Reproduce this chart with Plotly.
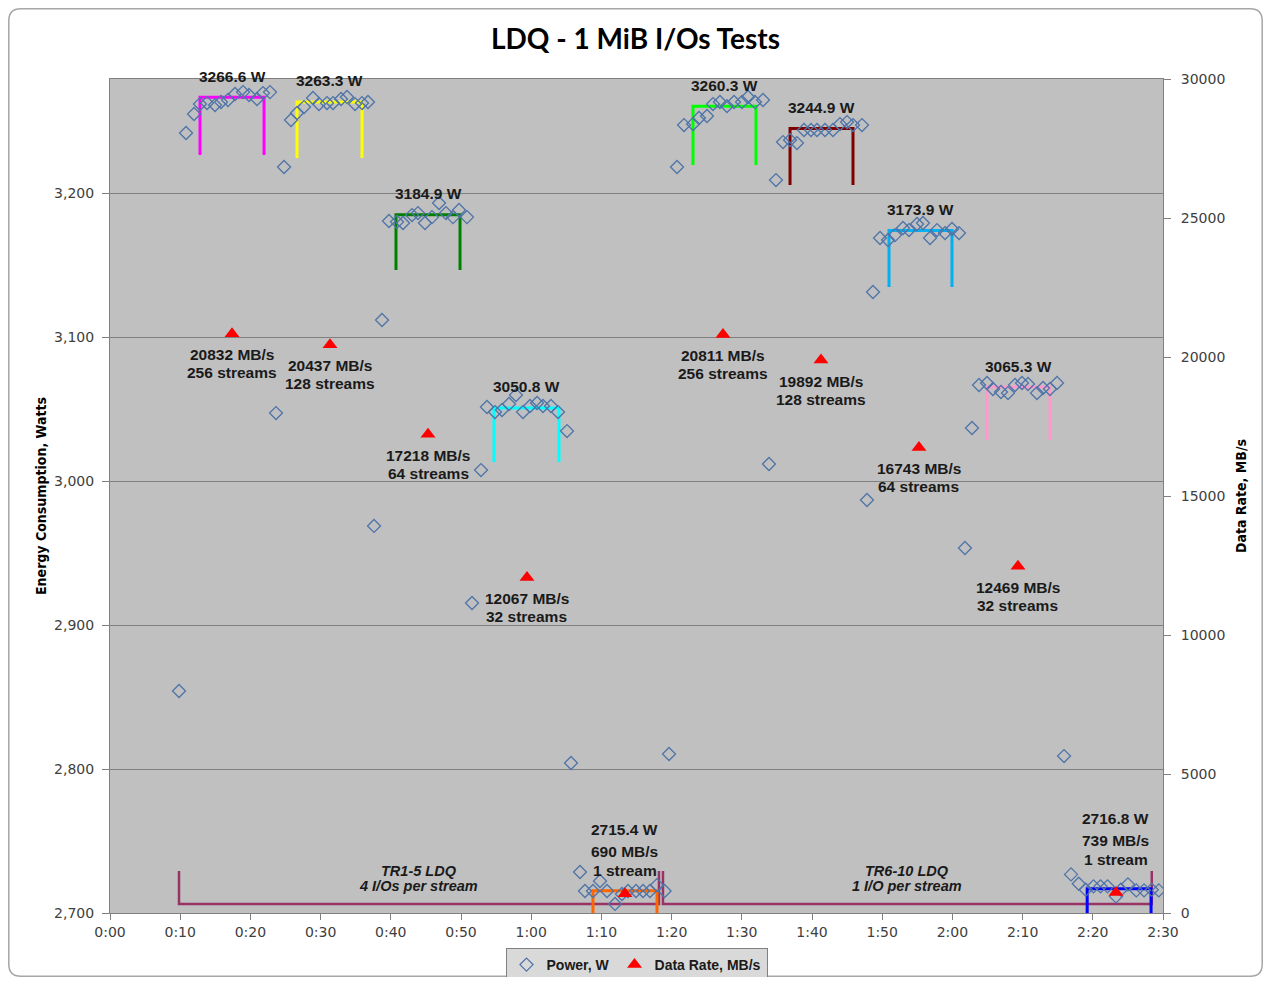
import plotly.graph_objects as go

# ---------------- data ----------------
power_min = [9.83, 10.83, 11.97, 12.82, 13.82, 14.96, 15.81, 16.81, 17.81, 18.95, 19.80, 20.94, 21.79, 22.79,
             23.65, 24.79, 25.78, 26.64, 27.64, 28.92, 29.77, 30.91, 31.77, 32.91, 33.76, 34.90, 35.90, 36.75,
             37.61, 38.75, 39.74, 40.88, 41.74, 43.02, 43.87, 44.87, 45.87, 46.87, 47.86, 48.86, 49.72, 50.85,
             51.57, 52.85, 53.70, 54.84, 55.84, 56.84, 57.83, 58.83, 59.83, 60.83, 61.68, 62.82, 63.82, 65.10,
             65.67, 66.95, 67.66, 68.80, 69.80, 70.80, 71.94, 72.93, 73.79, 74.93, 75.93, 76.92, 77.92, 79.00,
             79.63, 80.77, 81.77, 83.05, 83.90, 85.04, 85.90, 86.89, 87.89, 88.89, 90.03, 90.88, 91.88, 93.02,
             93.87, 94.87, 95.87, 96.87, 97.86, 98.86, 99.86, 100.71, 101.85, 102.99, 103.99, 104.99, 105.84, 107.12,
             107.83, 108.69, 109.69, 110.83, 111.82, 112.96, 113.82, 114.96, 115.81, 116.81, 117.81, 118.95, 119.94, 120.94,
             121.79, 122.79, 123.79, 124.93, 125.78, 126.92, 127.92, 128.92, 129.91, 130.77, 132.05, 132.91, 133.90, 134.90,
             135.90, 136.90, 138.00, 139.00, 140.10, 141.10, 142.10, 143.30, 144.00, 145.00, 146.20, 147.30, 148.40, 149.40]
power_w = [2854.2, 3241.7, 3254.9, 3261.8, 3262.5, 3261.1, 3263.2, 3264.6, 3268.8, 3270.1, 3268.1, 3265.3, 3269.4, 3270.1,
           3047.2, 3218.1, 3250.7, 3255.6, 3259.7, 3266.0, 3261.8, 3262.5, 3262.5, 3265.3, 3266.7, 3261.8, 3262.5, 3263.2,
           2968.8, 3111.8, 3180.6, 3180.0, 3179.2, 3184.7, 3186.1, 3179.2, 3183.3, 3193.1, 3186.1, 3183.3, 3188.2, 3183.3,
           2915.3, 3007.6, 3051.4, 3047.9, 3049.3, 3053.5, 3059.7, 3047.9, 3052.1, 3054.2, 3052.1, 3052.1, 3047.9, 3034.7,
           2804.2, 2728.5, 2715.3, 2715.3, 2722.2, 2715.3, 2706.3, 2713.2, 2715.3, 2715.3, 2715.3, 2715.3, 2719.4, 2715.3,
           2810.4, 3218.1, 3247.2, 3247.9, 3252.1, 3253.5, 3261.8, 3263.2, 3260.4, 3263.2, 3263.2, 3266.7, 3263.2, 3264.6,
           3011.8, 3209.0, 3235.4, 3236.8, 3234.7, 3243.8, 3243.8, 3243.8, 3243.8, 3243.8, 3247.9, 3249.3, 3247.2, 3247.2,
           2986.8, 3131.3, 3168.8, 3167.4, 3170.8, 3175.7, 3174.3, 3178.5, 3179.2, 3168.8, 3174.3, 3172.2, 3175.0, 3172.2,
           2953.5, 3036.8, 3066.7, 3068.1, 3063.9, 3061.8, 3061.1, 3066.7, 3068.1, 3067.4, 3061.1, 3064.6, 3063.9, 3068.1,
           2809.0, 2726.8, 2720.3, 2716.2, 2718.5, 2718.5, 2718.5, 2711.5, 2716.2, 2719.9, 2715.7, 2715.7, 2716.2, 2715.7]

rate_min = [17.38, 31.34, 45.30, 59.40, 73.36, 87.32, 101.28, 115.24, 129.34, 143.30]
rate_mbs = [20832, 20437, 17218, 12067, 690, 20811, 19892, 16743, 12469, 739]
rate_streams = [256, 128, 64, 32, 1, 256, 128, 64, 32, 1]

group_start = [12.82, 26.64, 40.74, 54.70, 68.80, 83.05, 96.87, 110.97, 124.93, 139.20]
group_end = [21.94, 35.90, 49.86, 63.96, 77.92, 92.02, 105.84, 119.94, 133.90, 148.30]
group_mean_w = [3266.6, 3263.3, 3184.9, 3050.8, 2715.4, 3260.3, 3244.9, 3173.9, 3065.3, 2716.8]
group_low_w = [3226.4, 3224.3, 3146.5, 3013.2, 2690.0, 3219.4, 3205.6, 3134.7, 3028.5, 2690.0]
group_colors = ["#FF00FF", "#FFFF00", "#008000", "#00FFFF", "#FF6600",
                "#00FF00", "#800000", "#00B0F0", "#FF99CC", "#0000FF"]

run_names = ["TR1-5 LDQ", "TR6-10 LDQ"]
run_notes = ["4 I/Os per stream", "1 I/O per stream"]
run_start = [9.83, 78.77]
run_end = [78.20, 148.40]
run_base_w = [2706.2, 2706.2]
run_top_w = [2729.2, 2729.2]

x_tickvals = list(range(0, 151, 10))
x_ticktext = ["0:00", "0:10", "0:20", "0:30", "0:40", "0:50", "1:00", "1:10",
              "1:20", "1:30", "1:40", "1:50", "2:00", "2:10", "2:20", "2:30"]

# ---------------- figure ----------------
LBL = "Liberation Sans, Arial, sans-serif"
TXT = "#1a1a1a"
W, H = 1255, 969          # page body has an 8px margin
fig = go.Figure()

# run brackets
for s, e, b, t in zip(run_start, run_end, run_base_w, run_top_w):
    fig.add_trace(go.Scatter(x=[s, s, e, e], y=[t, b, b, t], mode="lines",
                             line=dict(color="#993366", width=2.5),
                             showlegend=False, hoverinfo="skip"))

# group brackets
for s, e, m, lo, c in zip(group_start, group_end, group_mean_w, group_low_w, group_colors):
    fig.add_trace(go.Scatter(x=[s, s, e, e], y=[lo, m, m, lo], mode="lines",
                             line=dict(color=c, width=3),
                             showlegend=False, hoverinfo="skip"))

fig.add_trace(go.Scatter(x=power_min, y=power_w, mode="markers", name="Power, W",
                         marker=dict(symbol="diamond-open", size=10, color="#4F74A8",
                                     line=dict(width=1.3, color="#4F74A8"))))

fig.add_trace(go.Scatter(x=rate_min, y=rate_mbs, mode="markers", name="Data Rate, MB/s",
                         yaxis="y2",
                         marker=dict(symbol="triangle-up", size=13, color="#FF0000")))

ann = []
lab_font = dict(family=LBL, size=15.5, color=TXT)
# power labels
for s, e, m, r in zip(group_start, group_end, group_mean_w, rate_streams):
    cx = (s + e) / 2
    if r == 1:
        continue
    ann.append(dict(x=cx, y=m, xref="x", yref="y", text=f"<b>{m:.1f} W</b>",
                    showarrow=False, yshift=21, font=lab_font))
# rate labels
for x, v, n, m in zip(rate_min, rate_mbs, rate_streams, group_mean_w):
    if n == 1:
        extra = 0 if v < 700 else 10
        ann.append(dict(x=x, y=v, xref="x", yref="y2", text=f"<b>{m:.1f} W</b>",
                        showarrow=False, yshift=64 + extra, font=lab_font))
        ann.append(dict(x=x, y=v, xref="x", yref="y2", text=f"<b>{v} MB/s</b>",
                        showarrow=False, yshift=42 + extra, font=lab_font))
        ann.append(dict(x=x, y=v, xref="x", yref="y2", text="<b>1 stream</b>",
                        showarrow=False, yshift=23 + extra, font=lab_font))
    else:
        ann.append(dict(x=x, y=v, xref="x", yref="y2", text=f"<b>{v} MB/s</b>",
                        showarrow=False, yshift=-21, font=lab_font))
        ann.append(dict(x=x, y=v, xref="x", yref="y2", text=f"<b>{n} streams</b>",
                        showarrow=False, yshift=-39, font=lab_font))
# run labels
for nm, note, s, e, t in zip(run_names, run_notes, run_start, run_end, run_top_w):
    cx = (s + e) / 2
    ann.append(dict(x=cx, y=t, xref="x", yref="y", text=f"<b><i>{nm}</i></b>",
                    showarrow=False, yshift=0, font=dict(family=LBL, size=14.5, color=TXT)))
    ann.append(dict(x=cx, y=t, xref="x", yref="y", text=f"<b><i>{note}</i></b>",
                    showarrow=False, yshift=-15, font=dict(family=LBL, size=14.5, color=TXT)))

# plot-area position inside the figure (figure pixels)
PL, PR, PT, PB = 102, 1155, 71, 905
pw, ph = PR - PL, PB - PT

def px_x(v):
    return (v - PL) / pw

def px_y(v):
    return (PB - v) / ph

# outer rounded border (paper coordinates)
x0, x1 = px_x(0.8), px_x(W - 0.8)
y0, y1 = px_y(H - 0.8), px_y(0.8)
rx, ry = 12 / pw, 12 / ph
path = (f"M {x0+rx},{y1} L {x1-rx},{y1} Q {x1},{y1} {x1},{y1-ry} L {x1},{y0+ry} "
        f"Q {x1},{y0} {x1-rx},{y0} L {x0+rx},{y0} Q {x0},{y0} {x0},{y0+ry} "
        f"L {x0},{y1-ry} Q {x0},{y1} {x0+rx},{y1} Z")

tick_font = dict(family="DejaVu Sans, Verdana, sans-serif", size=14, color="#404040")
axis_title_font = dict(family="Liberation Sans Narrow, DejaVu Sans Condensed, Arial Narrow, sans-serif",
                       size=14, color="#000000")

fig.update_layout(
    width=W, height=H,
    margin=dict(l=PL, r=W - PR, t=PT, b=H - PB, autoexpand=False),
    paper_bgcolor="#FFFFFF",
    plot_bgcolor="#C0C0C0",
    title=dict(text="<b>LDQ - 1 MiB I/Os Tests</b>", x=0.5, xanchor="center",
               y=1 - 31 / H, yanchor="middle",
               font=dict(family="Lato, Open Sans, sans-serif", size=28, color="#000000")),
    xaxis=dict(range=[0, 150], tickvals=x_tickvals, ticktext=x_ticktext,
               showgrid=False, zeroline=False, showline=True, linecolor="#808080", linewidth=1,
               mirror=True, ticks="outside", ticklen=6, tickcolor="#808080", tickfont=tick_font),
    yaxis=dict(range=[2700, 3279.2], tickvals=[2700, 2800, 2900, 3000, 3100, 3200],
               tickformat=",d", showgrid=True, gridcolor="#808080", gridwidth=1, zeroline=False,
               showline=True, linecolor="#808080", linewidth=1, ticks="outside", ticklen=7,
               tickcolor="#808080", tickfont=tick_font, ticklabelstandoff=5,
               title=dict(text="<b>Energy Consumption, Watts</b>", font=axis_title_font, standoff=4)),
    yaxis2=dict(range=[0, 30000], tickvals=[0, 5000, 10000, 15000, 20000, 25000, 30000],
                tickformat="d", overlaying="y", side="right", showgrid=False, zeroline=False,
                showline=True, linecolor="#808080", linewidth=1, ticks="outside", ticklen=7,
                tickcolor="#808080", tickfont=tick_font, ticklabelstandoff=7,
                title=dict(text="<b>Data Rate, MB/s</b>", font=axis_title_font, standoff=11)),
    legend=dict(orientation="h", x=0.5, xanchor="center", xref="paper",
                y=1 - 940 / H, yanchor="top", yref="container",
                bgcolor="#D9D9D9", bordercolor="#808080", borderwidth=1,
                font=dict(family=LBL, size=14, color=TXT, weight="bold"), itemwidth=30,
                tracegroupgap=0),
    annotations=ann,
    shapes=[dict(type="path", path=path, xref="paper", yref="paper",
                 line=dict(color="#A6A6A6", width=1.5), fillcolor="rgba(0,0,0,0)", layer="below")],
    showlegend=True,
)

fig.write_html("out.html")
